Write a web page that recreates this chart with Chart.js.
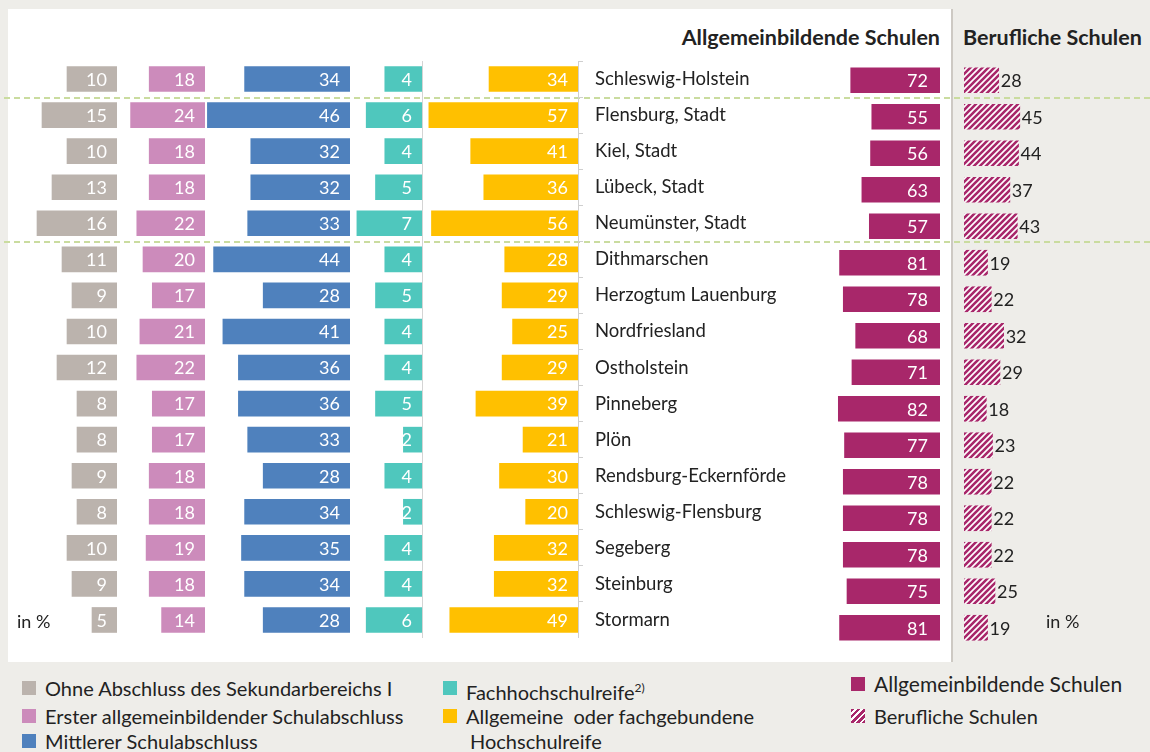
<!DOCTYPE html>
<html lang="de">
<head>
<meta charset="UTF-8">
<title>Schulabschlüsse Schleswig-Holstein</title>
<script src="https://cdn.jsdelivr.net/npm/chart.js"></script>
<style>
  body { margin: 0; background: #eeede9; font-family: 'Lato', sans-serif; color: #222; }
  .page { position: relative; width: 1150px; height: 752px; overflow: hidden; }
  .panel { position: absolute; left: 8px; top: 9px; width: 943px; height: 653px; background: #fff; border-right: 2px solid #cdc9c3; }
  .dash { position: absolute; left: 4px; width: 1146px; height: 1.5px;
          background: repeating-linear-gradient(to right, #cadc9f 0 6px, transparent 6px 10px); }
  .head { position: absolute; top: 25px; font-size: 21.5px; line-height: 24px; font-weight: 700; white-space: nowrap; }
  .txt { position: absolute; font-size: 18px; line-height: 20px; white-space: pre; }
  canvas { position: absolute; }
  .leg { position: absolute; font-size: 20px; line-height: 22px; white-space: pre; }
  .leg i { position: absolute; left: -23px; top: 4px; width: 14px; height: 14px; }
  .leg sup { font-size: 12px; }
</style>
</head>
<body>
<div class="page">
  <div class="panel"></div>
  <div class="dash" style="top:97px"></div>
  <div class="dash" style="top:241px"></div>

  <div class="head" style="right:210px">Allgemeinbildende Schulen</div>
  <div class="head" style="left:963px">Berufliche Schulen</div>

  <canvas id="cGrey"></canvas>
  <canvas id="cPink"></canvas>
  <canvas id="cBlue"></canvas>
  <canvas id="cTeal"></canvas>
  <canvas id="cYellow"></canvas>
  <canvas id="cGen"></canvas>
  <canvas id="cVoc"></canvas>

  <div class="txt" style="left:17px; top:611px">in %</div>
  <div class="txt" style="left:1046px; top:611px">in %</div>

  <div class="leg" style="left:45px; top:677px"><i style="background:#bbb3ad"></i>Ohne Abschluss des Sekundarbereichs I</div>
  <div class="leg" style="left:45px; top:705px"><i style="background:#cc8bbb"></i>Erster allgemeinbildender Schulabschluss</div>
  <div class="leg" style="left:45px; top:730px"><i style="background:#4f81bd"></i>Mittlerer Schulabschluss</div>
  <div class="leg" style="left:466px; top:677px"><i style="background:#4fc7bd"></i>Fachhochschulreife<sup>2)</sup></div>
  <div class="leg" style="left:466px; top:705px"><i style="background:#ffc000"></i>Allgemeine  oder fachgebundene</div>
  <div class="leg" style="left:470px; top:730px">Hochschulreife</div>
  <div class="leg" style="left:874px; top:673px; font-size:21px"><i style="background:#a8276a"></i>Allgemeinbildende Schulen</div>
  <div class="leg" style="left:874px; top:705px"><i style="background:repeating-linear-gradient(135deg,#a8276a 0 2.6px,#fff 2.6px 4.4px)"></i>Berufliche Schulen</div>
</div>

<script>
const regions = ['Schleswig-Holstein', 'Flensburg, Stadt', 'Kiel, Stadt', 'Lübeck, Stadt', 'Neumünster, Stadt',
  'Dithmarschen', 'Herzogtum Lauenburg', 'Nordfriesland', 'Ostholstein', 'Pinneberg', 'Plön',
  'Rendsburg-Eckernförde', 'Schleswig-Flensburg', 'Segeberg', 'Steinburg', 'Stormarn'];

// Anteile der Abschlussarten, in %
const ohneAbschluss    = [10, 15, 10, 13, 16, 11, 9, 10, 12, 8, 8, 9, 8, 10, 9, 5];
const ersterAbschluss  = [18, 24, 18, 18, 22, 20, 17, 21, 22, 17, 17, 18, 18, 19, 18, 14];
const mittlererAbschl  = [34, 46, 32, 32, 33, 44, 28, 41, 36, 36, 33, 28, 34, 35, 34, 28];
const fachhochschulr   = [4, 6, 4, 5, 7, 4, 5, 4, 4, 5, 2, 4, 2, 4, 4, 6];
const hochschulreife   = [34, 57, 41, 36, 56, 28, 29, 25, 29, 39, 21, 30, 20, 32, 32, 49];

// Allgemeinbildende vs. berufliche Schulen, in %
const allgemeinbildend = [72, 55, 56, 63, 57, 81, 78, 68, 71, 82, 77, 78, 78, 78, 75, 81];
const beruflich        = [28, 45, 44, 37, 43, 19, 22, 32, 29, 18, 23, 22, 22, 22, 25, 19];

const MAGENTA = '#a8276a';

function hatch() {
  const s = 6;
  const c = document.createElement('canvas');
  c.width = s; c.height = s;
  const x = c.getContext('2d');
  x.fillStyle = '#fff';
  x.fillRect(0, 0, s, s);
  x.strokeStyle = MAGENTA;
  x.lineWidth = 2.6;
  x.beginPath();
  for (let k = -1; k <= 1; k++) {
    x.moveTo(k * s - 1, s + 1);
    x.lineTo(k * s + s + 1, -1);
  }
  x.stroke();
  return x.createPattern(c, 'repeat');
}

// writes the value into (or next to) each bar
const valueLabels = {
  id: 'valueLabels',
  afterDatasetsDraw(chart, args, o) {
    const ctx = chart.ctx;
    const data = chart.data.datasets[0].data;
    ctx.save();
    ctx.font = '18px Lato';
    ctx.textBaseline = 'middle';
    chart.getDatasetMeta(0).data.forEach((bar, i) => {
      if (o.outside) {
        ctx.fillStyle = '#222';
        ctx.textAlign = 'left';
        ctx.fillText(data[i], bar.x + 2, bar.y + 1);
      } else {
        ctx.fillStyle = '#fff';
        ctx.textAlign = 'right';
        ctx.fillText(data[i], bar.base - o.pad, bar.y + 1);
      }
    });
    ctx.restore();
  }
};

function barChart(id, box, values, color, max, opts = {}) {
  const cv = document.getElementById(id);
  cv.width = box.w; cv.height = box.h;
  cv.style.left = box.x + 'px';
  cv.style.top = box.y + 'px';

  const yAxis = opts.yAxis || { display: false };
  return new Chart(cv, {
    type: 'bar',
    data: {
      labels: regions,
      datasets: [{ data: values, backgroundColor: color, barThickness: 25, borderWidth: 0 }]
    },
    options: {
      indexAxis: 'y',
      responsive: false,
      animation: false,
      layout: { padding: 0 },
      scales: {
        x: { display: false, min: 0, max: max, reverse: !opts.forward },
        y: yAxis
      },
      plugins: {
        legend: { display: false },
        tooltip: { enabled: false },
        valueLabels: { pad: opts.pad || 10, outside: !!opts.outside }
      }
    },
    plugins: [valueLabels]
  });
}

// fixed axis width, no extra padding above/below the rows
const fixWidth = w => s => { s.width = w; s.paddingTop = 0; s.paddingBottom = 0; };

const rowsL = { y: 61, h: 577 };
const rowsR = { y: 62, h: 584 };

barChart('cGrey',  { x: 17,  w: 100, ...rowsL }, ohneAbschluss,   '#bbb3ad', 20);
barChart('cPink',  { x: 112, w: 93,  ...rowsL }, ersterAbschluss, '#cc8bbb', 30);
barChart('cBlue',  { x: 195, w: 155, ...rowsL }, mittlererAbschl, '#4f81bd', 50);
barChart('cTeal',  { x: 329, w: 95,  ...rowsL }, fachhochschulr,  '#4fc7bd', 10, {
  yAxis: {
    position: 'right',
    afterFit: fixWidth(2),
    grid: { display: false },
    ticks: { display: false },
    border: { display: true, color: '#d4d4d4', width: 1 }
  }
});
barChart('cYellow', { x: 421, w: 400, ...rowsL }, hochschulreife, '#ffc000', 60, {
  yAxis: {
    position: 'right',
    afterFit: fixWidth(243),
    grid: { drawOnChartArea: false, drawTicks: true, tickLength: 5, color: '#cfcfcf' },
    border: { display: true, color: '#cfcfcf', width: 1 },
    ticks: { color: '#222', padding: 12, font: { family: 'Lato', size: 18.5 } }
  }
});
barChart('cGen', { x: 816, w: 124, ...rowsR }, allgemeinbildend, MAGENTA, 100, { pad: 12 });
barChart('cVoc', { x: 964, w: 150, ...rowsR }, beruflich, hatch(), 121, { forward: true, outside: true });
</script>
</body>
</html>
